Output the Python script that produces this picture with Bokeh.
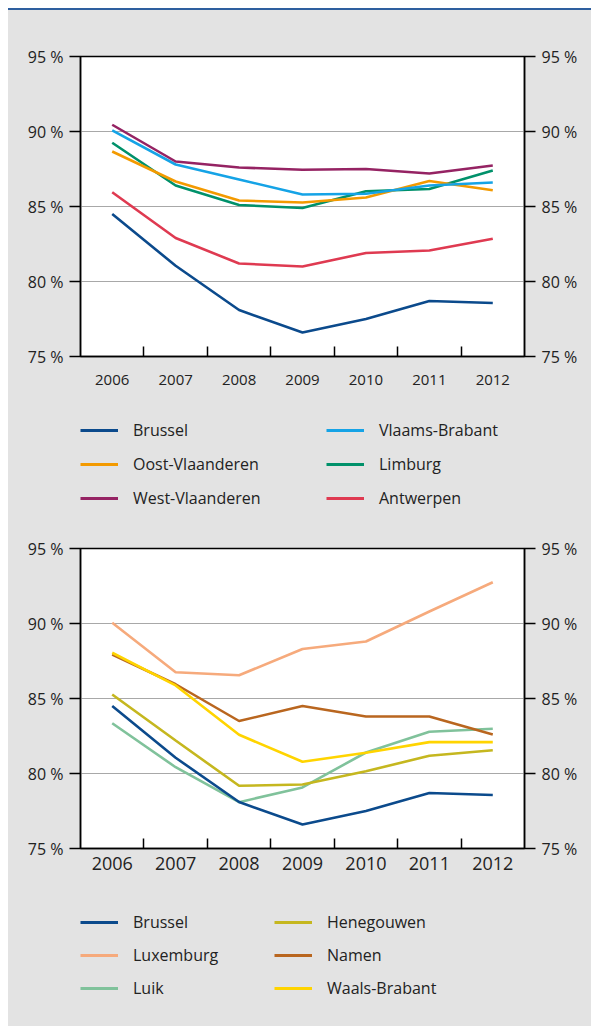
from bokeh.plotting import figure
from bokeh.models import (LinearAxis, FixedTicker, PrintfTickFormatter, Legend,
                          LegendItem, Div, Range1d)
from bokeh.layouts import column
from bokeh.embed import file_html
from bokeh.resources import INLINE

years = [2006, 2007, 2008, 2009, 2010, 2011, 2012]
y_ticks = [75, 80, 85, 90, 95]

# Vlaanderen + Brussel
brussel = [84.5, 81.05, 78.1, 76.6, 77.5, 78.7, 78.57]
vlaams_brabant = [90.07, 87.8, 86.8, 85.8, 85.85, 86.4, 86.6]
oost_vlaanderen = [88.67, 86.67, 85.4, 85.27, 85.6, 86.7, 86.08]
limburg = [89.25, 86.4, 85.1, 84.9, 86.02, 86.17, 87.4]
west_vlaanderen = [90.45, 88.0, 87.6, 87.45, 87.5, 87.2, 87.73]
antwerpen = [85.95, 82.9, 81.2, 81.0, 81.9, 82.07, 82.85]

# Wallonie + Brussel
luxemburg = [90.05, 86.75, 86.55, 88.3, 88.8, 90.8, 92.75]
namen = [87.93, 85.95, 83.5, 84.5, 83.8, 83.8, 82.6]
waals_brabant = [88.05, 85.87, 82.58, 80.78, 81.38, 82.09, 82.09]
henegouwen = [85.27, 82.2, 79.18, 79.27, 80.15, 81.18, 81.55]
luik = [83.35, 80.42, 78.09, 79.07, 81.4, 82.78, 82.98]

GREY = "#e3e3e3"
FONT = "Open Sans"
W = 583

top_series = [
    ("Brussel", brussel, "#0b4a8c"),
    ("Oost-Vlaanderen", oost_vlaanderen, "#f39a00"),
    ("West-Vlaanderen", west_vlaanderen, "#952363"),
    ("Vlaams-Brabant", vlaams_brabant, "#15a3e6"),
    ("Limburg", limburg, "#00916a"),
    ("Antwerpen", antwerpen, "#df3a51"),
]
bottom_series = [
    ("Brussel", brussel, "#0b4a8c"),
    ("Luxemburg", luxemburg, "#f6aa7c"),
    ("Luik", luik, "#80c29b"),
    ("Henegouwen", henegouwen, "#c5b71f"),
    ("Namen", namen, "#b9661f"),
    ("Waals-Brabant", waals_brabant, "#ffd400"),
]
draw_order_top = ["Brussel", "Antwerpen", "Limburg", "Oost-Vlaanderen", "Vlaams-Brabant", "West-Vlaanderen"]
draw_order_bottom = ["Luik", "Henegouwen", "Brussel", "Namen", "Waals-Brabant", "Luxemburg"]


def make_chart(series, order, height, top, bottom, xfont, xstandoff):
    p = figure(width=W, height=height, output_backend="svg", toolbar_location=None,
               x_range=Range1d(years[0] - 0.5, years[-1] + 0.5),
               y_range=Range1d(y_ticks[0], y_ticks[-1]),
               min_border_left=72, min_border_right=W - 72 - 444,
               min_border_top=top, min_border_bottom=bottom)
    p.border_fill_color = GREY
    p.background_fill_color = "white"
    p.outline_line_color = "black"
    p.outline_line_width = 1.5

    minor = [y + 0.5 for y in years[:-1]]
    xa = p.xaxis[0]
    xa.ticker = FixedTicker(ticks=years, minor_ticks=minor)
    xa.formatter = PrintfTickFormatter(format="%d")
    xa.major_tick_in = 0
    xa.major_tick_out = 0
    xa.minor_tick_in = 10
    xa.minor_tick_out = 0
    xa.minor_tick_line_color = "black"
    xa.minor_tick_line_width = 1.5
    xa.axis_line_color = "black"
    xa.axis_line_width = 1.5
    xa.major_label_text_font = FONT
    xa.major_label_text_font_size = xfont
    xa.major_label_text_color = "#222222"
    xa.major_label_standoff = xstandoff

    ya = p.yaxis[0]
    ra = LinearAxis()
    p.add_layout(ra, "right")
    for a in (ya, ra):
        a.ticker = FixedTicker(ticks=y_ticks)
        a.formatter = PrintfTickFormatter(format="%d %%")
        a.major_tick_in = 0
        a.major_tick_out = 11
        a.minor_tick_in = 0
        a.minor_tick_out = 0
        a.major_tick_line_color = "black"
        a.major_tick_line_width = 1.3
        a.axis_line_color = "black"
        a.axis_line_width = 1.5
        a.major_label_text_font = FONT
        a.major_label_text_font_size = "16px"
        a.major_label_text_color = "#222222"
        a.major_label_standoff = 6

    p.xgrid.grid_line_color = None
    p.ygrid.ticker = FixedTicker(ticks=y_ticks[1:-1])
    p.ygrid.grid_line_color = "#a8a8a8"
    p.ygrid.grid_line_width = 1.2

    for name in order:
        for n, vals, col in series:
            if n == name:
                p.line(years, vals, line_color=col, line_width=2.6)
    return p


def make_legend(series, height, col_x, top, spacing):
    q = figure(width=W, height=height, output_backend="svg", toolbar_location=None,
               x_axis_location=None, y_axis_location=None, min_border=0,
               x_range=Range1d(0, 1), y_range=Range1d(0, 1))
    q.border_fill_color = None
    q.background_fill_color = None
    q.outline_line_color = None
    q.grid.visible = False
    rends = []
    for n, vals, col in series:
        r = q.line(years, vals, line_color=col, line_width=3)
        r.visible = False
        rends.append((n, r))
    leg_h = 3 * 24 + 2 * spacing
    for c in range(2):
        items = [LegendItem(label=n, renderers=[r]) for n, r in rends[3 * c:3 * c + 3]]
        leg = Legend(items=items, location=(col_x[c], height - top - leg_h),
                     orientation="vertical", margin=0, padding=0, spacing=spacing,
                     glyph_width=38, glyph_height=24, label_height=24,
                     label_standoff=15, border_line_color=None,
                     background_fill_alpha=0, click_policy="none",
                     label_text_font=FONT, label_text_font_size="16px",
                     label_text_color="#222222")
        q.add_layout(leg, "center")
    return q


# legend column x positions are measured from the left edge of the plot frame
p1 = make_chart(top_series, draw_order_top, 390, 46, 44, "15px", 18)
l1 = make_legend(top_series, 120, (0, 246), 18, 10)
p2 = make_chart(bottom_series, draw_order_bottom, 362, 28, 34, "18px", 8)
l2 = make_legend(bottom_series, 144, (0, 194), 28, 9)

bar = Div(text="", width=W, height=2, margin=0,
          styles={"background-color": "#2e5f9f"})

layout = column(bar, p1, l1, p2, l2, spacing=0, margin=(8, 0, 0, 8),
                styles={"background-color": GREY})
open("out.html", "w").write(file_html(layout, INLINE))
